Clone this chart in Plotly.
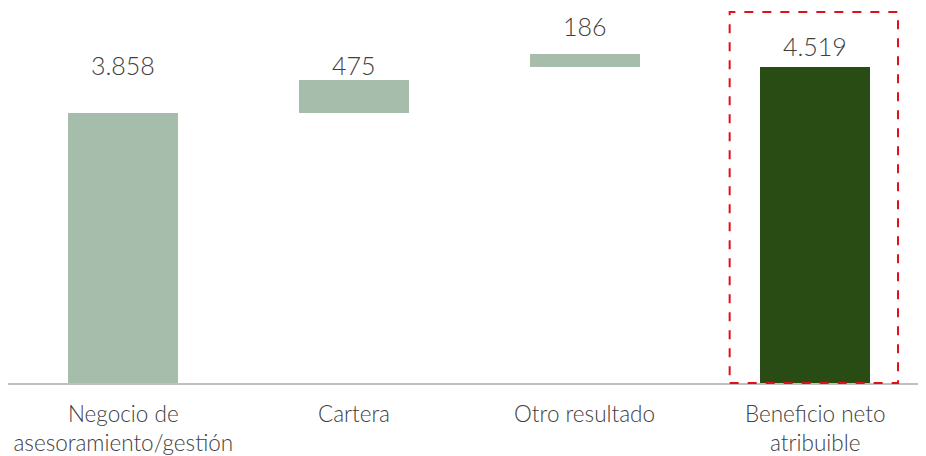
import plotly.graph_objects as go

categories = ["Negocio de<br>asesoramiento/gestión", "Cartera", "Otro resultado", "Beneficio neto<br>atribuible"]
values = [3858, 475, 186, 4519]
value_labels = ["3.858", "475", "186", "4.519"]
bar_colors = ["#A6BDAC", "#A6BDAC", "#A6BDAC", "#294B14"]

# bases as drawn in the original picture
bases = [0, values[0], values[3], 0]
tops = [b + v for b, v in zip(bases, values)]
label_shift = [48, 15, 28, 21]

FONT = "Lato, sans-serif"

fig = go.Figure()
fig.add_trace(go.Bar(
    x=categories, y=values, base=bases,
    marker=dict(color=bar_colors, line=dict(width=0)),
    width=0.477, hoverinfo="skip",
))

for c, t, lab, s in zip(categories, tops, value_labels, label_shift):
    fig.add_annotation(x=c, y=t, text=lab, showarrow=False, yanchor="middle",
                       yshift=s, font=dict(family=FONT, size=25, color="#404040", weight=300))

fig.add_shape(type="rect", xref="x", yref="paper",
              x0=3 - 0.371, x1=3 + 0.359, y0=0, y1=0.9946,
              line=dict(color="#E0101A", width=2, dash="dash"))

fig.update_layout(
    width=926, height=456,
    margin=dict(l=0, r=0, t=2, b=81),
    paper_bgcolor="white", plot_bgcolor="white",
    showlegend=False, bargap=0,
    font=dict(family=FONT, color="#404040"),
)
fig.update_xaxes(range=[-0.5, 3.515], showline=True, linecolor="#BFBFBF", linewidth=2,
                 automargin=False,
                 ticks="outside", ticklen=10, tickcolor="rgba(0,0,0,0)",
                 tickfont=dict(family=FONT, size=22.5, color="#404040", weight=300),
                 showgrid=False, zeroline=False)
fig.update_yaxes(range=[0, 5330], visible=False, showgrid=False, zeroline=False,
                 automargin=False)

fig.write_html("out.html")
